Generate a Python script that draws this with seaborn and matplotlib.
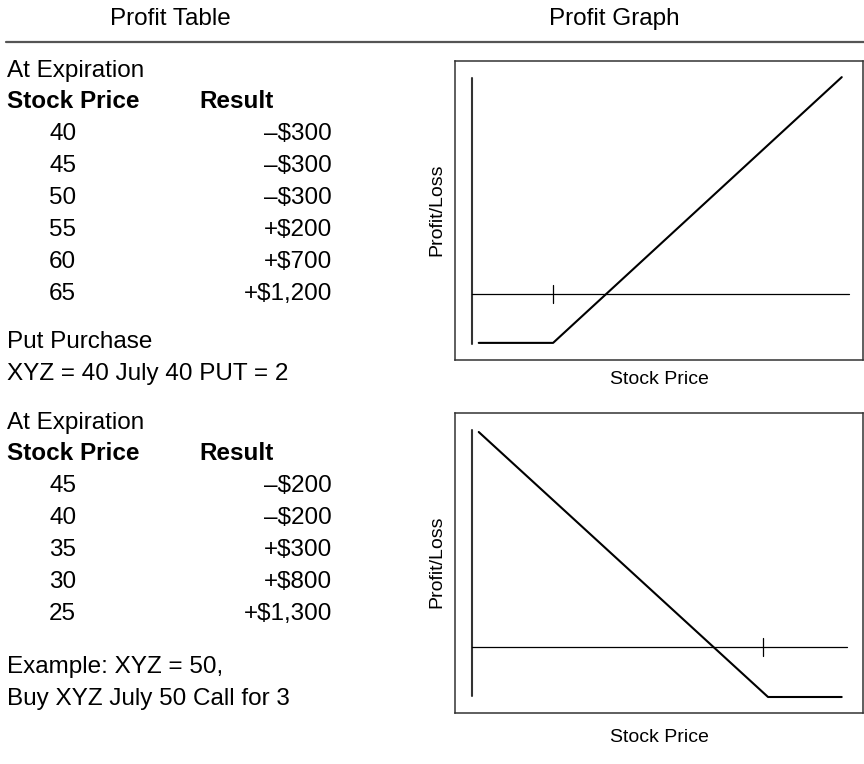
import numpy as np
import pandas as pd
import seaborn as sns
import matplotlib
matplotlib.use('Agg')
import matplotlib.pyplot as plt
from matplotlib.lines import Line2D

# ---- data -------------------------------------------------------------
call_prices = ['40', '45', '50', '55', '60', '65']
call_results = ['\u2013$300', '\u2013$300', '\u2013$300', '+$200', '+$700', '+$1,200']
put_prices = ['45', '40', '35', '30', '25']
put_results = ['\u2013$200', '\u2013$200', '+$300', '+$800', '+$1,300']

# payoff lines (stock price, profit/loss in $)
call_x = [45.8, 50.0, 66.3]
call_pl = [-300, -300, 1330]
put_x = [29.4, 40.0, 42.7]
put_pl = [860, -200, -200]

# strike ticks
call_strike = 50.0
put_strike = 39.8

# ---- styling ----------------------------------------------------------
sns.set_style('white')
plt.rcParams['font.family'] = ['Liberation Sans', 'DejaVu Sans']
plt.rcParams['text.color'] = 'black'

W, H = 864, 764
fig = plt.figure(figsize=(W / 100, H / 100), dpi=100)


def fx(px):
    return px / W


def fy(py):
    return 1 - py / H


BIG = 17.5
SMALL = 14

# headers and rule
fig.text(fx(170), fy(25), 'Profit Table', fontsize=BIG, ha='center', va='baseline')
fig.text(fx(614), fy(25), 'Profit Graph', fontsize=BIG, ha='center', va='baseline')
fig.add_artist(Line2D([fx(6), fx(864)], [fy(42), fy(42)], color='#555555', lw=1.6))


def table(y0, prices, results):
    fig.text(fx(7), fy(y0), 'At Expiration', fontsize=BIG, va='baseline')
    fig.text(fx(7), fy(y0 + 31), 'Stock Price', fontsize=BIG, fontweight='bold', va='baseline')
    fig.text(fx(199), fy(y0 + 31), 'Result', fontsize=BIG, fontweight='bold', va='baseline')
    for i, (p, r) in enumerate(zip(prices, results)):
        yb = y0 + 63 + 32 * i
        fig.text(fx(49), fy(yb), p, fontsize=BIG, va='baseline')
        fig.text(fx(332), fy(yb), r, fontsize=BIG, ha='right', va='baseline')


table(77, call_prices, call_results)
fig.text(fx(7), fy(348), 'Put Purchase', fontsize=BIG, va='baseline')
fig.text(fx(7), fy(380), 'XYZ = 40 July 40 PUT = 2', fontsize=BIG, va='baseline')

table(429, put_prices, put_results)
fig.text(fx(7), fy(673), 'Example: XYZ = 50,', fontsize=BIG, va='baseline')
fig.text(fx(7), fy(705), 'Buy XYZ July 50 Call for 3', fontsize=BIG, va='baseline')


def graph(box, xlim, ylim, xs, pls, strike, axis_x, axis_y, zero_end, tick_h):
    ax = fig.add_axes(box)
    df = pd.DataFrame({'price': xs, 'pl': pls})
    sns.lineplot(data=df, x='price', y='pl', ax=ax, color='black', lw=1.5, sort=False)
    ax.plot([axis_x, axis_x], list(axis_y), color='#333333', lw=1.5)
    ax.plot([axis_x, zero_end], [0, 0], color='black', lw=0.9)
    ax.plot([strike, strike], [-tick_h, tick_h], color='black', lw=0.9)
    ax.set_xlim(*xlim)
    ax.set_ylim(*ylim)
    ax.set_xticks([])
    ax.set_yticks([])
    ax.set_xlabel('')
    ax.set_ylabel('')
    for s in ax.spines.values():
        s.set_color('#333333')
        s.set_linewidth(1.1)
    return ax


graph([fx(455), fy(360), fx(863) - fx(455), fy(61) - fy(360)],
      (44.46, 67.5), (-405, 1429), call_x, call_pl, call_strike,
      45.4, (-307, 1325), 66.7, 55)
graph([fx(455), fy(713), fx(863) - fx(455), fy(413) - fy(713)],
      (28.53, 43.48), (-264, 936), put_x, put_pl, put_strike,
      29.16, (-196, 868), 42.9, 36)

for yc in (210, 562):
    fig.text(fx(437), fy(yc), 'Profit/Loss', fontsize=SMALL, rotation=90,
             ha='center', va='center')
for yc in (380, 737):
    fig.text(fx(659), fy(yc), 'Stock Price', fontsize=SMALL, ha='center', va='center')

fig.savefig('out.png', dpi=100)
